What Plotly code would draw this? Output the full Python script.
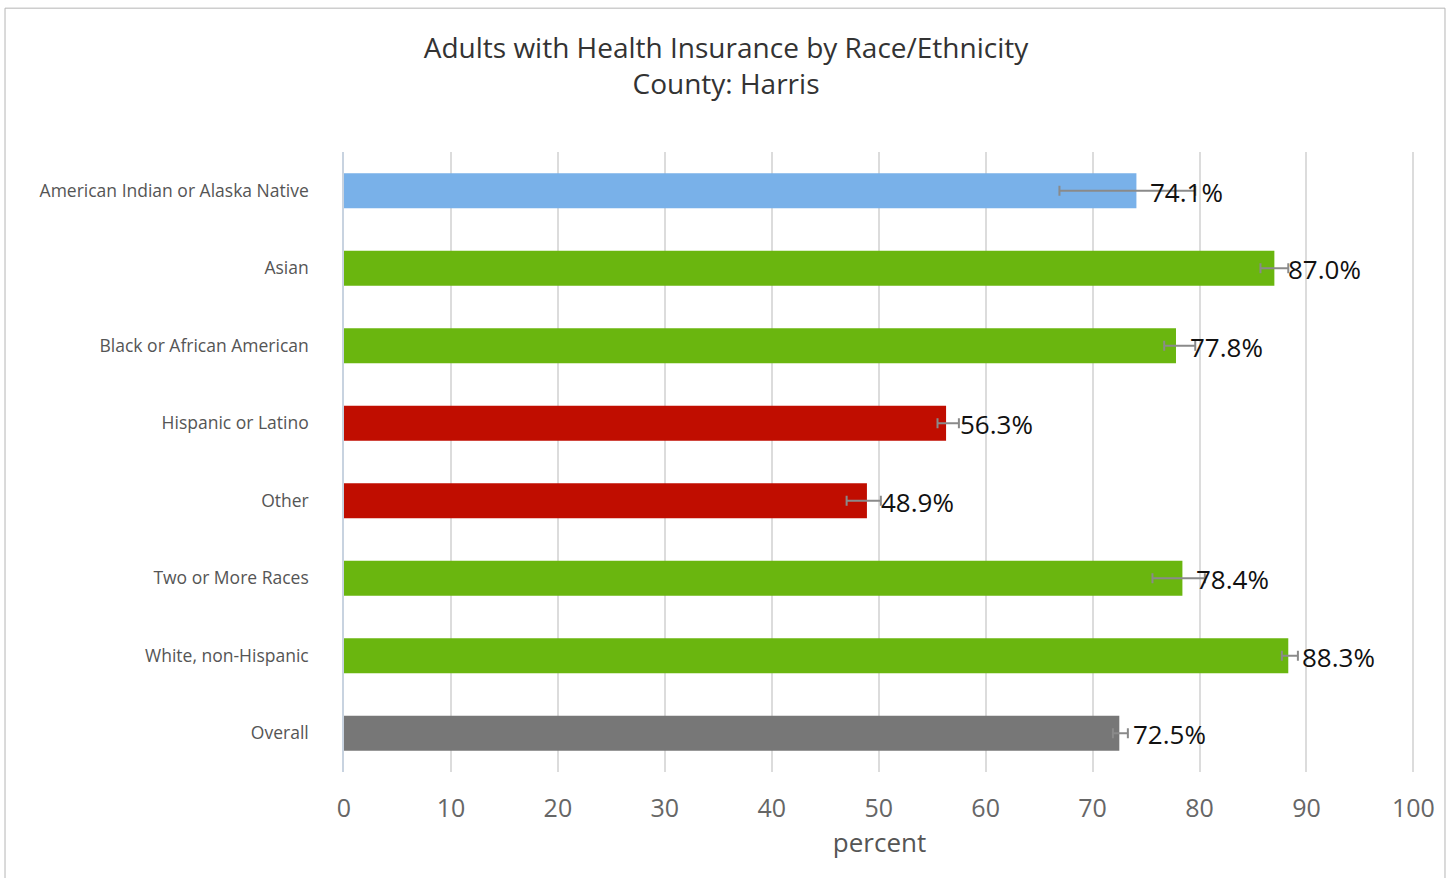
import plotly.graph_objects as go

categories = ["American Indian or Alaska Native", "Asian", "Black or African American",
              "Hispanic or Latino", "Other", "Two or More Races", "White, non-Hispanic", "Overall"]
values = [74.1, 87.0, 77.8, 56.3, 48.9, 78.4, 88.3, 72.5]
ci_low = [66.9, 85.7, 76.7, 55.5, 47.0, 75.6, 87.7, 71.9]
ci_high = [79.6, 88.3, 79.6, 57.5, 50.2, 80.5, 89.2, 73.3]
colors = ["#79b1e9", "#6ab60f", "#6ab60f", "#c00d00", "#c00d00", "#6ab60f", "#6ab60f", "#777777"]
x_ticks = [0, 10, 20, 30, 40, 50, 60, 70, 80, 90, 100]

err_plus = [h - v for h, v in zip(ci_high, values)]
err_minus = [v - l for v, l in zip(values, ci_low)]

fig = go.Figure()
fig.add_trace(go.Bar(
    y=categories, x=values, orientation="h",
    marker=dict(color=colors, line=dict(width=0)),
    error_x=dict(type="data", symmetric=False, array=err_plus, arrayminus=err_minus,
                 color="#8a8a8a", thickness=2, width=5),
    hoverinfo="x+y",
))

for c, v in zip(categories, values):
    fig.add_annotation(x=v, y=c, text=f"{v:.1f}%", showarrow=False, xanchor="left",
                       xshift=12, yshift=-1,
                       font=dict(family="Open Sans", size=26, color="#111111"))

fig.add_shape(type="rect", xref="paper", yref="paper",
              x0=-0.3165, x1=1.028, y0=-0.2, y1=1.232,
              line=dict(color="#b5b5b5", width=1), fillcolor="rgba(0,0,0,0)", layer="below")

fig.update_layout(
    width=1452, height=878,
    margin=dict(l=344, r=37, t=152, b=106),
    paper_bgcolor="white", plot_bgcolor="white",
    bargap=0.55,
    showlegend=False,
    title=dict(text="Adults with Health Insurance by Race/Ethnicity<br>County: Harris",
               x=0.5, xanchor="center", y=0.934, yanchor="top",
               font=dict(family="Open Sans", size=28, color="#333333")),
    xaxis=dict(range=[0, 100.15], tickvals=x_ticks, showgrid=True, gridcolor="#dcdcdc",
               gridwidth=1.5, zeroline=False, showline=False,
               tickfont=dict(family="Open Sans", size=25, color="#666666"),
               ticklabelstandoff=19,
               title=dict(text="percent", font=dict(family="Open Sans", size=26, color="#555555"),
                          standoff=10)),
    yaxis=dict(categoryorder="array", categoryarray=categories, range=[7.5, -0.5],
               showgrid=False, showline=True, linecolor="#c8d3e0", linewidth=1.5,
               tickfont=dict(family="Open Sans", size=17.5, color="#555555"),
               ticklabelstandoff=30),
    font=dict(family="Open Sans"),
)

fig.write_html("out.html", config={"displayModeBar": False},
               post_script="document.body.style.margin='0';document.body.style.overflow='hidden';")
